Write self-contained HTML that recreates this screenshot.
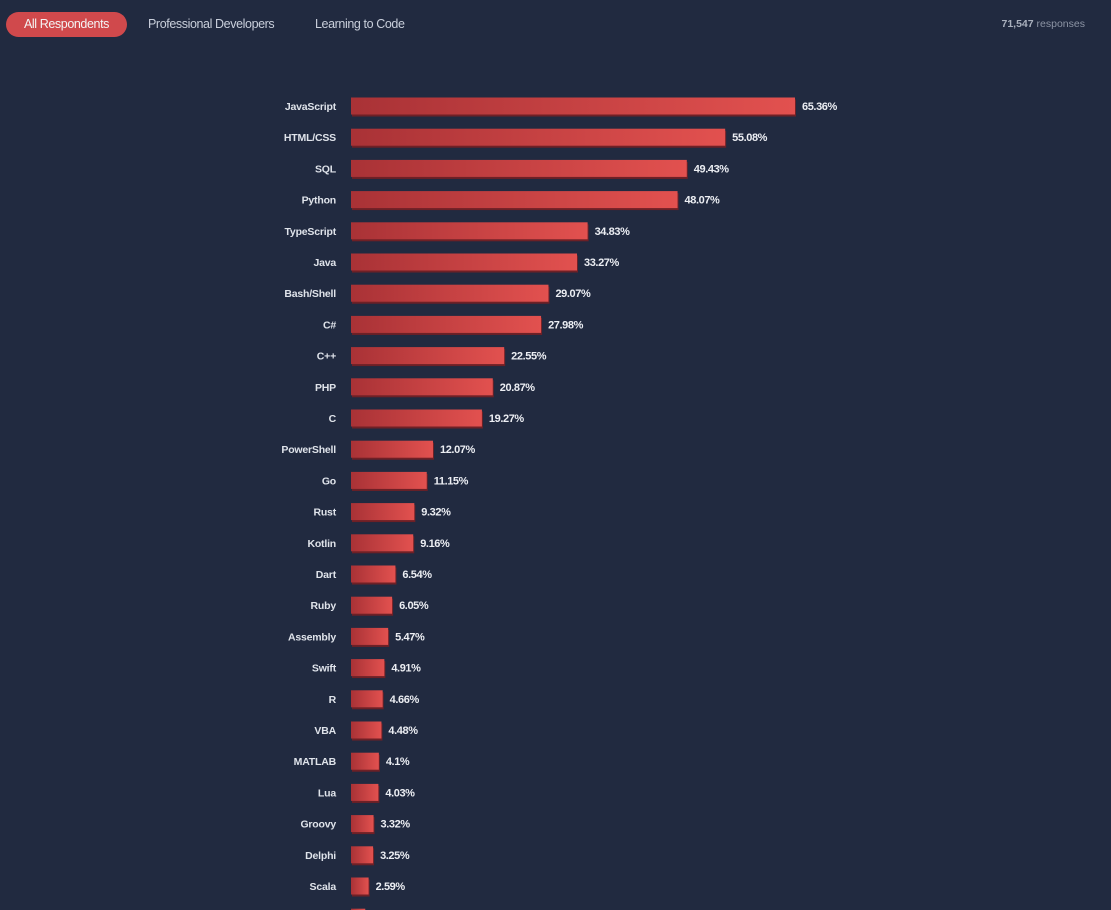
<!DOCTYPE html>
<html><head><meta charset="utf-8"><style>
html,body{margin:0;padding:0;background:#212a40;width:1111px;height:910px;overflow:hidden;font-family:"Liberation Sans",sans-serif}
.tab{position:absolute;top:12px;height:25px;line-height:25px;font-size:12.5px;color:#c9cfdb;letter-spacing:-0.4px}
#t1{left:6px;width:121px;text-align:center;background:#d0494c;border-radius:13px;color:#f4f4f4}
#resp{position:absolute;top:18px;right:26px;font-size:10.5px;color:#8d95a5}
#resp b{color:#a9b0bd;font-weight:bold}
svg{position:absolute;left:0;top:0}
</style></head><body>
<div class="tab" id="t1">All Respondents</div>
<div class="tab" style="left:148px">Professional Developers</div>
<div class="tab" style="left:315px">Learning to Code</div>
<div id="resp"><b>71,547</b> responses</div>
<svg id="chart" width="1111" height="910">
<defs><linearGradient id="g" x1="0" x2="1" y1="0" y2="0"><stop offset="0" stop-color="#a93236"/><stop offset="1" stop-color="#e2514f"/></linearGradient></defs>
</svg>
<script>
const categories=["JavaScript","HTML/CSS","SQL","Python","TypeScript","Java","Bash/Shell","C#","C++","PHP","C","PowerShell","Go","Rust","Kotlin","Dart","Ruby","Assembly","Swift","R","VBA","MATLAB","Lua","Groovy","Delphi","Scala","Elixir"];
const values=[65.36,55.08,49.43,48.07,34.83,33.27,29.07,27.98,22.55,20.87,19.27,12.07,11.15,9.32,9.16,6.54,6.05,5.47,4.91,4.66,4.48,4.1,4.03,3.32,3.25,2.59,2.1];
const labels=["65.36%","55.08%","49.43%","48.07%","34.83%","33.27%","29.07%","27.98%","22.55%","20.87%","19.27%","12.07%","11.15%","9.32%","9.16%","6.54%","6.05%","5.47%","4.91%","4.66%","4.48%","4.1%","4.03%","3.32%","3.25%","2.59%","2.15%"];
const svg=document.getElementById('chart');const NS='http://www.w3.org/2000/svg';
const x0=351,pxPer=444/65.36,y0=106,step=31.2,bh=17;
const xs=v=>v*pxPer, ys=i=>y0+i*step;
categories.forEach((c,i)=>{
 const y=ys(i),w=xs(values[i]);
 const sh=document.createElementNS(NS,'rect');
 sh.setAttribute('x',x0+1);sh.setAttribute('y',y-bh/2+2);sh.setAttribute('width',w);sh.setAttribute('height',bh);sh.setAttribute('fill','#6e2026');
 
 
 svg.appendChild(sh);
 const r=document.createElementNS(NS,'rect');
 r.setAttribute('x',x0);r.setAttribute('y',y-bh/2);r.setAttribute('width',w);r.setAttribute('height',bh);r.setAttribute('fill','url(#g)');
 
 
 svg.appendChild(r);
 const t=document.createElementNS(NS,'text');
 t.setAttribute('x',336);t.setAttribute('y',y+4);t.setAttribute('text-anchor','end');t.setAttribute('font-size','10.5');t.setAttribute('font-weight','bold');t.setAttribute('fill','#dfe3ea');t.setAttribute('font-family','Liberation Sans, sans-serif');t.setAttribute('letter-spacing','-0.2');
 t.textContent=c;
 
 
 svg.appendChild(t);
 const v=document.createElementNS(NS,'text');
 v.setAttribute('x',x0+w+7);v.setAttribute('y',y+4);v.setAttribute('font-size','11');v.setAttribute('font-weight','bold');v.setAttribute('fill','#eceef3');v.setAttribute('font-family','Liberation Sans, sans-serif');v.setAttribute('letter-spacing','-0.4');
 v.textContent=labels[i];
 
 
 svg.appendChild(v);
});
</script>
</body></html>
